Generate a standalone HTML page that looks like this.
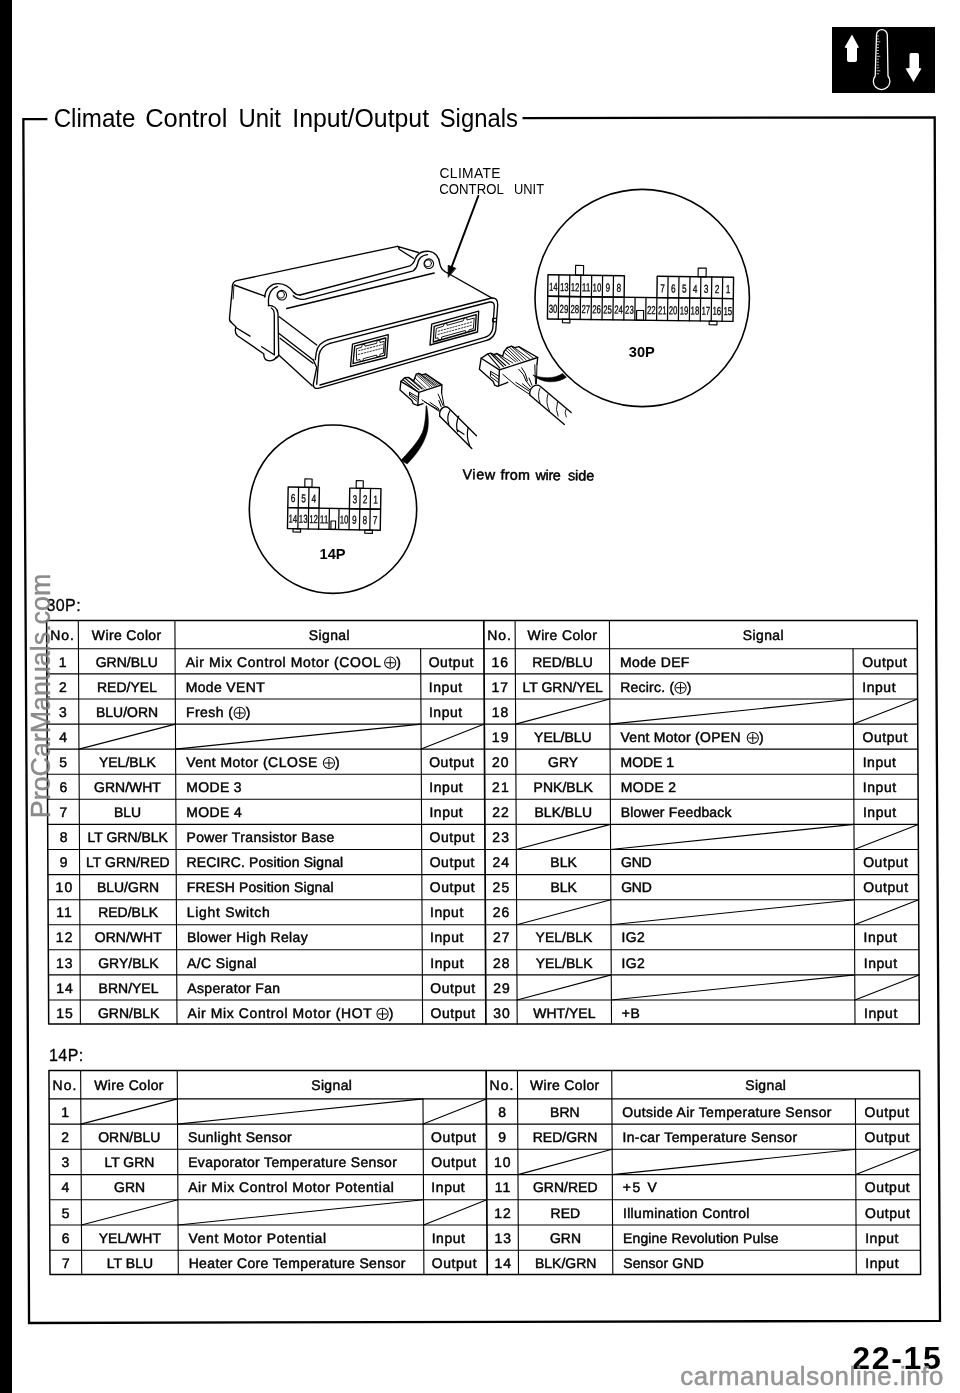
<!DOCTYPE html>
<html><head><meta charset="utf-8"><title>22-15</title>
<style>
html,body{margin:0;padding:0;background:#fff;}
body{width:960px;height:1393px;position:relative;overflow:hidden;font-family:"Liberation Sans",sans-serif;}
svg{position:absolute;left:0;top:0;display:block;filter:grayscale(1);}
text{font-family:"Liberation Sans",sans-serif;fill:#000;}
.t{font-size:14px;stroke:#000;stroke-width:0.45px;}
.m{letter-spacing:0.35px;}
.d{letter-spacing:1px;}
.m2{letter-spacing:0.55px;}
.b{font-weight:bold;}
.n{font-size:11px;}
</style></head><body>
<svg width="960" height="1393" viewBox="0 0 960 1393" stroke-linecap="round" stroke-linejoin="round">
<rect x="0" y="0" width="12" height="1393" fill="#000"/>
<path d="M47.40,119.10 L23.35,119.15 L24.50,420.00 L27.30,920.00 L28.10,1100.00 L29.05,1323.00 L940.00,1320.80 L936.25,640.00 L934.70,117.30 L522.50,118.14" fill="none" stroke="#000" stroke-width="2.3" stroke-linecap="butt" stroke-linejoin="miter"/>
<rect x="832" y="27" width="103" height="66" fill="#000"/>
<path d="M852,34.5 L859,47.5 L857,48 L857,60 Q857,62 855,62 L849,62 Q847,62 847,60 L847,48 L844.5,47.5 Z" fill="#fff"/>
<path d="M911,53 L917,53 Q919,53 919,55 L919,68 L921.5,68.5 L913.5,82 L905.5,68.5 L909.5,68 L909.5,55 Q909.5,53 911,53 Z" fill="#fff"/>
<path d="M876.5,35 A5.4,5.4 0 0 1 887.3,35 L888,76 A8.3,8.3 0 1 1 875.2,76 Z" fill="#000" stroke="#fff" stroke-width="1.3"/>
<line x1="877" y1="36.0" x2="878.6" y2="36.0" stroke="#fff" stroke-width="0.7"/>
<line x1="877" y1="38.9" x2="878.6" y2="38.9" stroke="#fff" stroke-width="0.7"/>
<line x1="877" y1="41.8" x2="879.9" y2="41.8" stroke="#fff" stroke-width="0.7"/>
<line x1="877" y1="44.7" x2="878.6" y2="44.7" stroke="#fff" stroke-width="0.7"/>
<line x1="877" y1="47.6" x2="878.6" y2="47.6" stroke="#fff" stroke-width="0.7"/>
<line x1="877" y1="50.5" x2="878.6" y2="50.5" stroke="#fff" stroke-width="0.7"/>
<line x1="877" y1="53.4" x2="878.6" y2="53.4" stroke="#fff" stroke-width="0.7"/>
<line x1="877" y1="56.3" x2="879.9" y2="56.3" stroke="#fff" stroke-width="0.7"/>
<line x1="877" y1="59.2" x2="878.6" y2="59.2" stroke="#fff" stroke-width="0.7"/>
<line x1="877" y1="62.1" x2="878.6" y2="62.1" stroke="#fff" stroke-width="0.7"/>
<line x1="877" y1="65.0" x2="878.6" y2="65.0" stroke="#fff" stroke-width="0.7"/>
<line x1="877" y1="67.9" x2="878.6" y2="67.9" stroke="#fff" stroke-width="0.7"/>
<line x1="877" y1="70.8" x2="879.9" y2="70.8" stroke="#fff" stroke-width="0.7"/>
<line x1="877" y1="73.7" x2="878.6" y2="73.7" stroke="#fff" stroke-width="0.7"/>
<text x="53.7" y="127.2" font-size="26.3" textLength="81.8" lengthAdjust="spacingAndGlyphs">Climate</text>
<text x="145.2" y="127.2" font-size="26.3" textLength="82.3" lengthAdjust="spacingAndGlyphs">Control</text>
<text x="238.4" y="127.2" font-size="26.3" textLength="42.5" lengthAdjust="spacingAndGlyphs">Unit</text>
<text x="292.3" y="127.2" font-size="26.3" textLength="136.8" lengthAdjust="spacingAndGlyphs">Input/Output</text>
<text x="439.7" y="127.2" font-size="26.3" textLength="78.2" lengthAdjust="spacingAndGlyphs">Signals</text>
<text x="439.5" y="177.8" class="" textLength="61.0" lengthAdjust="spacing" font-size="13.8">CLIMATE</text>
<text x="439.3" y="193.7" font-size="13.8" textLength="64.5" lengthAdjust="spacingAndGlyphs">CONTROL</text>
<text x="514" y="193.7" font-size="13.8" textLength="30" lengthAdjust="spacingAndGlyphs">UNIT</text>
<g transform="rotate(0.6 463 479)">
<text x="462.4" y="479.2" class="" textLength="32.8" lengthAdjust="spacing" font-size="14.3" stroke="#000" stroke-width="0.5">View</text>
<text x="500.4" y="479.2" class="" textLength="29.5" lengthAdjust="spacing" font-size="14.3" stroke="#000" stroke-width="0.5">from</text>
<text x="535.5" y="479.2" class="" textLength="25.3" lengthAdjust="spacing" font-size="14.3" stroke="#000" stroke-width="0.5">wire</text>
<text x="567.9" y="479.2" class="" textLength="26.3" lengthAdjust="spacing" font-size="14.3" stroke="#000" stroke-width="0.5">side</text>
</g>
<text x="628.8" y="357.3" class="b" font-size="14.6">30P</text>
<text x="319.6" y="558.5" class="b" font-size="14.6">14P</text>
<text x="46.4" y="611.0" class="" textLength="34.2" lengthAdjust="spacing" font-size="16" stroke="#000" stroke-width="0.3">30P:</text>
<text x="49.0" y="1061.1" class="" textLength="34.2" lengthAdjust="spacing" font-size="16" stroke="#000" stroke-width="0.3">14P:</text>
<g transform="matrix(1 0 0.0052 1 -3.328 0)">
<rect x="46.7" y="620.6" width="870.6" height="403.4" fill="none" stroke="#000" stroke-width="1.5"/>
<line x1="78.4" y1="620.6" x2="78.4" y2="1024.0" stroke="#000" stroke-width="1.1"/>
<line x1="175.0" y1="620.6" x2="175.0" y2="1024.0" stroke="#000" stroke-width="1.1"/>
<line x1="515.2" y1="620.6" x2="515.2" y2="1024.0" stroke="#000" stroke-width="1.1"/>
<line x1="609.5" y1="620.6" x2="609.5" y2="1024.0" stroke="#000" stroke-width="1.1"/>
<line x1="483.9" y1="620.6" x2="483.9" y2="1024.0" stroke="#000" stroke-width="1.7"/>
<line x1="420.6" y1="648.8" x2="420.6" y2="1024.0" stroke="#000" stroke-width="1.1"/>
<line x1="853.0" y1="648.8" x2="853.0" y2="1024.0" stroke="#000" stroke-width="1.1"/>
<line x1="46.7" y1="648.8" x2="917.3" y2="648.8" stroke="#000" stroke-width="1.1"/>
<line x1="46.7" y1="673.9" x2="917.3" y2="673.9" stroke="#000" stroke-width="1.1"/>
<line x1="46.7" y1="699.0" x2="917.3" y2="699.0" stroke="#000" stroke-width="1.1"/>
<line x1="46.7" y1="724.1" x2="917.3" y2="724.1" stroke="#000" stroke-width="1.1"/>
<line x1="46.7" y1="749.1" x2="917.3" y2="749.1" stroke="#000" stroke-width="1.1"/>
<line x1="46.7" y1="774.2" x2="917.3" y2="774.2" stroke="#000" stroke-width="1.1"/>
<line x1="46.7" y1="799.3" x2="917.3" y2="799.3" stroke="#000" stroke-width="1.1"/>
<line x1="46.7" y1="824.4" x2="917.3" y2="824.4" stroke="#000" stroke-width="1.1"/>
<line x1="46.7" y1="849.5" x2="917.3" y2="849.5" stroke="#000" stroke-width="1.1"/>
<line x1="46.7" y1="874.6" x2="917.3" y2="874.6" stroke="#000" stroke-width="1.1"/>
<line x1="46.7" y1="899.7" x2="917.3" y2="899.7" stroke="#000" stroke-width="1.1"/>
<line x1="46.7" y1="924.7" x2="917.3" y2="924.7" stroke="#000" stroke-width="1.1"/>
<line x1="46.7" y1="949.8" x2="917.3" y2="949.8" stroke="#000" stroke-width="1.1"/>
<line x1="46.7" y1="974.9" x2="917.3" y2="974.9" stroke="#000" stroke-width="1.1"/>
<line x1="46.7" y1="1000.0" x2="917.3" y2="1000.0" stroke="#000" stroke-width="1.1"/>
<text x="62.6" y="640.1" class="t d" text-anchor="middle" >No.</text>
<text x="126.7" y="640.1" class="t m" text-anchor="middle" >Wire Color</text>
<text x="329.4" y="640.1" class="t m" text-anchor="middle" >Signal</text>
<text x="499.6" y="640.1" class="t d" text-anchor="middle" >No.</text>
<text x="562.4" y="640.1" class="t m" text-anchor="middle" >Wire Color</text>
<text x="763.4" y="640.1" class="t m" text-anchor="middle" >Signal</text>
<text x="63.1" y="666.6" class="t d" text-anchor="middle" >1</text>
<text x="126.7" y="666.6" class="t" text-anchor="middle" >GRN/BLU</text>
<text x="185.5" y="666.6" class="t" textLength="195.1" lengthAdjust="spacing" >Air Mix Control Motor (COOL</text>
<circle cx="390.1" cy="662.7" r="5.6" fill="none" stroke="#000" stroke-width="1"/>
<path d="M385.9,662.7 L394.2,662.7 M390.1,658.6 L390.1,666.8" stroke="#000" stroke-width="1" fill="none"/>
<text x="396.2" y="666.6" class="t" >)</text>
<text x="428.5" y="666.6" class="t m2" >Output</text>
<text x="63.1" y="691.7" class="t d" text-anchor="middle" >2</text>
<text x="126.7" y="691.7" class="t" text-anchor="middle" >RED/YEL</text>
<text x="185.4" y="691.7" class="t m" >Mode VENT</text>
<text x="428.5" y="691.7" class="t m2" >Input</text>
<text x="63.1" y="716.8" class="t d" text-anchor="middle" >3</text>
<text x="126.7" y="716.8" class="t" text-anchor="middle" >BLU/ORN</text>
<text x="185.5" y="716.8" class="t" textLength="47.0" lengthAdjust="spacing" >Fresh (</text>
<circle cx="239.3" cy="712.9" r="5.6" fill="none" stroke="#000" stroke-width="1"/>
<path d="M235.2,712.9 L243.4,712.9 M239.3,708.8 L239.3,717.0" stroke="#000" stroke-width="1" fill="none"/>
<text x="245.4" y="716.8" class="t" >)</text>
<text x="428.5" y="716.8" class="t m2" >Input</text>
<text x="63.1" y="741.9" class="t d" text-anchor="middle" >4</text>
<line x1="78.4" y1="749.1" x2="175.0" y2="724.1" stroke="#000" stroke-width="1.1"/>
<line x1="175.0" y1="749.1" x2="420.6" y2="724.1" stroke="#000" stroke-width="1.1"/>
<line x1="420.6" y1="749.1" x2="483.9" y2="724.1" stroke="#000" stroke-width="1.1"/>
<text x="63.1" y="766.9" class="t d" text-anchor="middle" >5</text>
<text x="126.7" y="766.9" class="t" text-anchor="middle" >YEL/BLK</text>
<text x="185.5" y="766.9" class="t" textLength="131.3" lengthAdjust="spacing" >Vent Motor (CLOSE</text>
<circle cx="328.3" cy="763.0" r="5.6" fill="none" stroke="#000" stroke-width="1"/>
<path d="M324.2,763.0 L332.4,763.0 M328.3,758.9 L328.3,767.1" stroke="#000" stroke-width="1" fill="none"/>
<text x="334.4" y="766.9" class="t" >)</text>
<text x="428.5" y="766.9" class="t m2" >Output</text>
<text x="63.1" y="792.0" class="t d" text-anchor="middle" >6</text>
<text x="126.7" y="792.0" class="t" text-anchor="middle" >GRN/WHT</text>
<text x="185.4" y="792.0" class="t m" >MODE 3</text>
<text x="428.5" y="792.0" class="t m2" >Input</text>
<text x="63.1" y="817.1" class="t d" text-anchor="middle" >7</text>
<text x="126.7" y="817.1" class="t" text-anchor="middle" >BLU</text>
<text x="185.4" y="817.1" class="t m" >MODE 4</text>
<text x="428.5" y="817.1" class="t m2" >Input</text>
<text x="63.1" y="842.2" class="t d" text-anchor="middle" >8</text>
<text x="126.7" y="842.2" class="t" text-anchor="middle" >LT GRN/BLK</text>
<text x="185.4" y="842.2" class="t m" >Power Transistor Base</text>
<text x="428.5" y="842.2" class="t m2" >Output</text>
<text x="63.1" y="867.3" class="t d" text-anchor="middle" >9</text>
<text x="126.7" y="867.3" class="t" text-anchor="middle" >LT GRN/RED</text>
<text x="185.4" y="867.3" class="t" textLength="156.6" lengthAdjust="spacing" >RECIRC. Position Signal</text>
<text x="428.5" y="867.3" class="t m2" >Output</text>
<text x="63.1" y="892.4" class="t d" text-anchor="middle" >10</text>
<text x="126.7" y="892.4" class="t" text-anchor="middle" >BLU/GRN</text>
<text x="185.4" y="892.4" class="t" textLength="146.9" lengthAdjust="spacing" >FRESH Position Signal</text>
<text x="428.5" y="892.4" class="t m2" >Output</text>
<text x="63.1" y="917.5" class="t d" text-anchor="middle" >11</text>
<text x="126.7" y="917.5" class="t" text-anchor="middle" >RED/BLK</text>
<text x="185.4" y="917.5" class="t" textLength="83.0" lengthAdjust="spacing" >Light Switch</text>
<text x="428.5" y="917.5" class="t m2" >Input</text>
<text x="63.1" y="942.5" class="t d" text-anchor="middle" >12</text>
<text x="126.7" y="942.5" class="t" text-anchor="middle" >ORN/WHT</text>
<text x="185.4" y="942.5" class="t m" >Blower High Relay</text>
<text x="428.5" y="942.5" class="t m2" >Input</text>
<text x="63.1" y="967.6" class="t d" text-anchor="middle" >13</text>
<text x="126.7" y="967.6" class="t" text-anchor="middle" >GRY/BLK</text>
<text x="185.4" y="967.6" class="t m" >A/C Signal</text>
<text x="428.5" y="967.6" class="t m2" >Input</text>
<text x="63.1" y="992.7" class="t d" text-anchor="middle" >14</text>
<text x="126.7" y="992.7" class="t" text-anchor="middle" >BRN/YEL</text>
<text x="185.4" y="992.7" class="t m" >Asperator Fan</text>
<text x="428.5" y="992.7" class="t m2" >Output</text>
<text x="63.1" y="1017.8" class="t d" text-anchor="middle" >15</text>
<text x="126.7" y="1017.8" class="t" text-anchor="middle" >GRN/BLK</text>
<text x="185.5" y="1017.8" class="t" textLength="184.3" lengthAdjust="spacing" >Air Mix Control Motor (HOT</text>
<circle cx="380.6" cy="1013.9" r="5.6" fill="none" stroke="#000" stroke-width="1"/>
<path d="M376.4,1013.9 L384.7,1013.9 M380.6,1009.8 L380.6,1018.0" stroke="#000" stroke-width="1" fill="none"/>
<text x="386.7" y="1017.8" class="t" >)</text>
<text x="428.5" y="1017.8" class="t m2" >Output</text>
<text x="500.1" y="666.6" class="t d" text-anchor="middle" >16</text>
<text x="562.4" y="666.6" class="t" text-anchor="middle" >RED/BLU</text>
<text x="619.9" y="666.6" class="t m" >Mode DEF</text>
<text x="862.0" y="666.6" class="t m2" >Output</text>
<text x="500.1" y="691.7" class="t d" text-anchor="middle" >17</text>
<text x="562.4" y="691.7" class="t" text-anchor="middle" >LT GRN/YEL</text>
<text x="620.0" y="691.7" class="t" textLength="53.8" lengthAdjust="spacing" >Recirc. (</text>
<circle cx="680.3" cy="687.8" r="5.6" fill="none" stroke="#000" stroke-width="1"/>
<path d="M676.2,687.8 L684.4,687.8 M680.3,683.7 L680.3,691.9" stroke="#000" stroke-width="1" fill="none"/>
<text x="686.4" y="691.7" class="t" >)</text>
<text x="862.0" y="691.7" class="t m2" >Input</text>
<text x="500.1" y="716.8" class="t d" text-anchor="middle" >18</text>
<line x1="515.2" y1="724.1" x2="609.5" y2="699.0" stroke="#000" stroke-width="1.1"/>
<line x1="609.5" y1="724.1" x2="853.0" y2="699.0" stroke="#000" stroke-width="1.1"/>
<line x1="853.0" y1="724.1" x2="917.3" y2="699.0" stroke="#000" stroke-width="1.1"/>
<text x="500.1" y="741.9" class="t d" text-anchor="middle" >19</text>
<text x="562.4" y="741.9" class="t" text-anchor="middle" >YEL/BLU</text>
<text x="620.0" y="741.9" class="t" textLength="120.0" lengthAdjust="spacing" >Vent Motor (OPEN</text>
<circle cx="752.3" cy="738.0" r="5.6" fill="none" stroke="#000" stroke-width="1"/>
<path d="M748.2,738.0 L756.4,738.0 M752.3,733.9 L752.3,742.1" stroke="#000" stroke-width="1" fill="none"/>
<text x="758.4" y="741.9" class="t" >)</text>
<text x="862.0" y="741.9" class="t m2" >Output</text>
<text x="500.1" y="766.9" class="t d" text-anchor="middle" >20</text>
<text x="562.4" y="766.9" class="t" text-anchor="middle" >GRY</text>
<text x="619.9" y="766.9" class="t" textLength="53.5" lengthAdjust="spacing" >MODE 1</text>
<text x="862.0" y="766.9" class="t m2" >Input</text>
<text x="500.1" y="792.0" class="t d" text-anchor="middle" >21</text>
<text x="562.4" y="792.0" class="t" text-anchor="middle" >PNK/BLK</text>
<text x="619.9" y="792.0" class="t m" >MODE 2</text>
<text x="862.0" y="792.0" class="t m2" >Input</text>
<text x="500.1" y="817.1" class="t d" text-anchor="middle" >22</text>
<text x="562.4" y="817.1" class="t" text-anchor="middle" >BLK/BLU</text>
<text x="619.9" y="817.1" class="t" textLength="110.7" lengthAdjust="spacing" >Blower Feedback</text>
<text x="862.0" y="817.1" class="t m2" >Input</text>
<text x="500.1" y="842.2" class="t d" text-anchor="middle" >23</text>
<line x1="515.2" y1="849.5" x2="609.5" y2="824.4" stroke="#000" stroke-width="1.1"/>
<line x1="609.5" y1="849.5" x2="853.0" y2="824.4" stroke="#000" stroke-width="1.1"/>
<line x1="853.0" y1="849.5" x2="917.3" y2="824.4" stroke="#000" stroke-width="1.1"/>
<text x="500.1" y="867.3" class="t d" text-anchor="middle" >24</text>
<text x="562.4" y="867.3" class="t" text-anchor="middle" >BLK</text>
<text x="619.9" y="867.3" class="t" textLength="30.6" lengthAdjust="spacing" >GND</text>
<text x="862.0" y="867.3" class="t m2" >Output</text>
<text x="500.1" y="892.4" class="t d" text-anchor="middle" >25</text>
<text x="562.4" y="892.4" class="t" text-anchor="middle" >BLK</text>
<text x="619.9" y="892.4" class="t" textLength="30.6" lengthAdjust="spacing" >GND</text>
<text x="862.0" y="892.4" class="t m2" >Output</text>
<text x="500.1" y="917.5" class="t d" text-anchor="middle" >26</text>
<line x1="515.2" y1="924.7" x2="609.5" y2="899.7" stroke="#000" stroke-width="1.1"/>
<line x1="609.5" y1="924.7" x2="853.0" y2="899.7" stroke="#000" stroke-width="1.1"/>
<line x1="853.0" y1="924.7" x2="917.3" y2="899.7" stroke="#000" stroke-width="1.1"/>
<text x="500.1" y="942.5" class="t d" text-anchor="middle" >27</text>
<text x="562.4" y="942.5" class="t" text-anchor="middle" >YEL/BLK</text>
<text x="619.9" y="942.5" class="t m" >IG2</text>
<text x="862.0" y="942.5" class="t m2" >Input</text>
<text x="500.1" y="967.6" class="t d" text-anchor="middle" >28</text>
<text x="562.4" y="967.6" class="t" text-anchor="middle" >YEL/BLK</text>
<text x="619.9" y="967.6" class="t m" >IG2</text>
<text x="862.0" y="967.6" class="t m2" >Input</text>
<text x="500.1" y="992.7" class="t d" text-anchor="middle" >29</text>
<line x1="515.2" y1="1000.0" x2="609.5" y2="974.9" stroke="#000" stroke-width="1.1"/>
<line x1="609.5" y1="1000.0" x2="853.0" y2="974.9" stroke="#000" stroke-width="1.1"/>
<line x1="853.0" y1="1000.0" x2="917.3" y2="974.9" stroke="#000" stroke-width="1.1"/>
<text x="500.1" y="1017.8" class="t d" text-anchor="middle" >30</text>
<text x="562.4" y="1017.8" class="t" text-anchor="middle" >WHT/YEL</text>
<text x="619.9" y="1017.8" class="t m" >+B</text>
<text x="862.0" y="1017.8" class="t m2" >Input</text>
</g>
<g transform="matrix(1 0 0.0052 1 -3.328 0)">
<rect x="46.7" y="1070.6" width="870.6" height="204.0" fill="none" stroke="#000" stroke-width="1.5"/>
<line x1="78.4" y1="1070.6" x2="78.4" y2="1274.6" stroke="#000" stroke-width="1.1"/>
<line x1="175.0" y1="1070.6" x2="175.0" y2="1274.6" stroke="#000" stroke-width="1.1"/>
<line x1="515.2" y1="1070.6" x2="515.2" y2="1274.6" stroke="#000" stroke-width="1.1"/>
<line x1="609.5" y1="1070.6" x2="609.5" y2="1274.6" stroke="#000" stroke-width="1.1"/>
<line x1="483.9" y1="1070.6" x2="483.9" y2="1274.6" stroke="#000" stroke-width="1.7"/>
<line x1="420.6" y1="1098.9" x2="420.6" y2="1274.6" stroke="#000" stroke-width="1.1"/>
<line x1="853.0" y1="1098.9" x2="853.0" y2="1274.6" stroke="#000" stroke-width="1.1"/>
<line x1="46.7" y1="1098.9" x2="917.3" y2="1098.9" stroke="#000" stroke-width="1.1"/>
<line x1="46.7" y1="1124.1" x2="917.3" y2="1124.1" stroke="#000" stroke-width="1.1"/>
<line x1="46.7" y1="1149.3" x2="917.3" y2="1149.3" stroke="#000" stroke-width="1.1"/>
<line x1="46.7" y1="1174.6" x2="917.3" y2="1174.6" stroke="#000" stroke-width="1.1"/>
<line x1="46.7" y1="1199.8" x2="917.3" y2="1199.8" stroke="#000" stroke-width="1.1"/>
<line x1="46.7" y1="1225.0" x2="917.3" y2="1225.0" stroke="#000" stroke-width="1.1"/>
<line x1="46.7" y1="1250.2" x2="917.3" y2="1250.2" stroke="#000" stroke-width="1.1"/>
<text x="62.6" y="1090.1" class="t d" text-anchor="middle" >No.</text>
<text x="126.7" y="1090.1" class="t m" text-anchor="middle" >Wire Color</text>
<text x="329.4" y="1090.1" class="t m" text-anchor="middle" >Signal</text>
<text x="499.6" y="1090.1" class="t d" text-anchor="middle" >No.</text>
<text x="562.4" y="1090.1" class="t m" text-anchor="middle" >Wire Color</text>
<text x="763.4" y="1090.1" class="t m" text-anchor="middle" >Signal</text>
<text x="63.1" y="1116.7" class="t d" text-anchor="middle" >1</text>
<line x1="78.4" y1="1124.1" x2="175.0" y2="1098.9" stroke="#000" stroke-width="1.1"/>
<line x1="175.0" y1="1124.1" x2="420.6" y2="1098.9" stroke="#000" stroke-width="1.1"/>
<line x1="420.6" y1="1124.1" x2="483.9" y2="1098.9" stroke="#000" stroke-width="1.1"/>
<text x="63.1" y="1141.9" class="t d" text-anchor="middle" >2</text>
<text x="126.7" y="1141.9" class="t" text-anchor="middle" >ORN/BLU</text>
<text x="185.4" y="1141.9" class="t m" >Sunlight Sensor</text>
<text x="428.5" y="1141.9" class="t m2" >Output</text>
<text x="63.1" y="1167.1" class="t d" text-anchor="middle" >3</text>
<text x="126.7" y="1167.1" class="t" text-anchor="middle" >LT GRN</text>
<text x="185.4" y="1167.1" class="t m" >Evaporator Temperature Sensor</text>
<text x="428.5" y="1167.1" class="t m2" >Output</text>
<text x="63.1" y="1192.4" class="t d" text-anchor="middle" >4</text>
<text x="126.7" y="1192.4" class="t" text-anchor="middle" >GRN</text>
<text x="185.4" y="1192.4" class="t" textLength="205.6" lengthAdjust="spacing" >Air Mix Control Motor Potential</text>
<text x="428.5" y="1192.4" class="t m2" >Input</text>
<text x="63.1" y="1217.6" class="t d" text-anchor="middle" >5</text>
<line x1="78.4" y1="1225.0" x2="175.0" y2="1199.8" stroke="#000" stroke-width="1.1"/>
<line x1="175.0" y1="1225.0" x2="420.6" y2="1199.8" stroke="#000" stroke-width="1.1"/>
<line x1="420.6" y1="1225.0" x2="483.9" y2="1199.8" stroke="#000" stroke-width="1.1"/>
<text x="63.1" y="1242.8" class="t d" text-anchor="middle" >6</text>
<text x="126.7" y="1242.8" class="t" text-anchor="middle" >YEL/WHT</text>
<text x="185.4" y="1242.8" class="t" textLength="137.6" lengthAdjust="spacing" >Vent Motor Potential</text>
<text x="428.5" y="1242.8" class="t m2" >Input</text>
<text x="63.1" y="1268.0" class="t d" text-anchor="middle" >7</text>
<text x="126.7" y="1268.0" class="t" text-anchor="middle" >LT BLU</text>
<text x="185.4" y="1268.0" class="t m" >Heater Core Temperature Sensor</text>
<text x="428.5" y="1268.0" class="t m2" >Output</text>
<text x="500.1" y="1116.7" class="t d" text-anchor="middle" >8</text>
<text x="562.4" y="1116.7" class="t" text-anchor="middle" >BRN</text>
<text x="619.9" y="1116.7" class="t m" >Outside Air Temperature Sensor</text>
<text x="862.0" y="1116.7" class="t m2" >Output</text>
<text x="500.1" y="1141.9" class="t d" text-anchor="middle" >9</text>
<text x="562.4" y="1141.9" class="t" text-anchor="middle" >RED/GRN</text>
<text x="619.9" y="1141.9" class="t m" >In-car Temperature Sensor</text>
<text x="862.0" y="1141.9" class="t m2" >Output</text>
<text x="500.1" y="1167.1" class="t d" text-anchor="middle" >10</text>
<line x1="515.2" y1="1174.6" x2="609.5" y2="1149.3" stroke="#000" stroke-width="1.1"/>
<line x1="609.5" y1="1174.6" x2="853.0" y2="1149.3" stroke="#000" stroke-width="1.1"/>
<line x1="853.0" y1="1174.6" x2="917.3" y2="1149.3" stroke="#000" stroke-width="1.1"/>
<text x="500.1" y="1192.4" class="t d" text-anchor="middle" >11</text>
<text x="562.4" y="1192.4" class="t" text-anchor="middle" >GRN/RED</text>
<text x="619.9" y="1192.4" class="t" textLength="34.1" lengthAdjust="spacing" >+5 V</text>
<text x="862.0" y="1192.4" class="t m2" >Output</text>
<text x="500.1" y="1217.6" class="t d" text-anchor="middle" >12</text>
<text x="562.4" y="1217.6" class="t" text-anchor="middle" >RED</text>
<text x="619.9" y="1217.6" class="t m" >Illumination Control</text>
<text x="862.0" y="1217.6" class="t m2" >Output</text>
<text x="500.1" y="1242.8" class="t d" text-anchor="middle" >13</text>
<text x="562.4" y="1242.8" class="t" text-anchor="middle" >GRN</text>
<text x="619.9" y="1242.8" class="t" textLength="155.6" lengthAdjust="spacing" >Engine Revolution Pulse</text>
<text x="862.0" y="1242.8" class="t m2" >Input</text>
<text x="500.1" y="1268.0" class="t d" text-anchor="middle" >14</text>
<text x="562.4" y="1268.0" class="t" text-anchor="middle" >BLK/GRN</text>
<text x="619.9" y="1268.0" class="t" textLength="80.6" lengthAdjust="spacing" >Sensor GND</text>
<text x="862.0" y="1268.0" class="t m2" >Input</text>
</g>
<text x="852.3" y="1368.5" class="b" textLength="88.5" lengthAdjust="spacing" font-size="32">22-15</text>
<text transform="translate(50.3,818.2) rotate(-90)" font-size="28" fill-opacity="0.88" stroke="#7c7c7c" stroke-width="0.4" stroke-opacity="0.88" textLength="244.5" lengthAdjust="spacingAndGlyphs" style="fill:#7c7c7c">ProCarManuals.com</text>
<text x="680.3" y="1384.7" font-size="25.8" textLength="263" lengthAdjust="spacing" style="fill:#8c8c8c" fill-opacity="0.9" stroke="#8c8c8c" stroke-width="0.5" stroke-opacity="0.9">carmanualsonline.info</text>
<ellipse cx="642.2" cy="298" rx="107.2" ry="108.6" fill="none" stroke="#000" stroke-width="1.6"/>
<ellipse cx="333" cy="509.2" rx="83.7" ry="84.2" fill="none" stroke="#000" stroke-width="1.6"/>
<g transform="rotate(0.75 640 298)">
<rect x="547.7" y="276.0" width="76.4" height="21.4" fill="none" stroke="#000" stroke-width="1.4"/>
<line x1="558.6" y1="276.0" x2="558.6" y2="297.4" stroke="#000" stroke-width="1.25"/>
<line x1="569.5" y1="276.0" x2="569.5" y2="297.4" stroke="#000" stroke-width="1.25"/>
<line x1="580.5" y1="276.0" x2="580.5" y2="297.4" stroke="#000" stroke-width="1.25"/>
<line x1="591.4" y1="276.0" x2="591.4" y2="297.4" stroke="#000" stroke-width="1.25"/>
<line x1="602.3" y1="276.0" x2="602.3" y2="297.4" stroke="#000" stroke-width="1.25"/>
<line x1="613.2" y1="276.0" x2="613.2" y2="297.4" stroke="#000" stroke-width="1.25"/>
<text x="548.9" y="292.0" font-size="11.5" stroke="#000" stroke-width="0.3" textLength="8.6" lengthAdjust="spacingAndGlyphs">14</text>
<text x="559.8" y="292.0" font-size="11.5" stroke="#000" stroke-width="0.3" textLength="8.6" lengthAdjust="spacingAndGlyphs">13</text>
<text x="570.7" y="292.0" font-size="11.5" stroke="#000" stroke-width="0.3" textLength="8.6" lengthAdjust="spacingAndGlyphs">12</text>
<text x="581.6" y="292.0" font-size="11.5" stroke="#000" stroke-width="0.3" textLength="8.6" lengthAdjust="spacingAndGlyphs">11</text>
<text x="592.5" y="292.0" font-size="11.5" stroke="#000" stroke-width="0.3" textLength="8.6" lengthAdjust="spacingAndGlyphs">10</text>
<text x="605.5" y="292.0" font-size="11.5" stroke="#000" stroke-width="0.3" textLength="4.6" lengthAdjust="spacingAndGlyphs">9</text>
<text x="616.4" y="292.0" font-size="11.5" stroke="#000" stroke-width="0.3" textLength="4.6" lengthAdjust="spacingAndGlyphs">8</text>
<rect x="656.9" y="276.0" width="76.4" height="21.4" fill="none" stroke="#000" stroke-width="1.4"/>
<line x1="667.8" y1="276.0" x2="667.8" y2="297.4" stroke="#000" stroke-width="1.25"/>
<line x1="678.7" y1="276.0" x2="678.7" y2="297.4" stroke="#000" stroke-width="1.25"/>
<line x1="689.7" y1="276.0" x2="689.7" y2="297.4" stroke="#000" stroke-width="1.25"/>
<line x1="700.6" y1="276.0" x2="700.6" y2="297.4" stroke="#000" stroke-width="1.25"/>
<line x1="711.5" y1="276.0" x2="711.5" y2="297.4" stroke="#000" stroke-width="1.25"/>
<line x1="722.4" y1="276.0" x2="722.4" y2="297.4" stroke="#000" stroke-width="1.25"/>
<text x="660.1" y="292.0" font-size="11.5" stroke="#000" stroke-width="0.3" textLength="4.6" lengthAdjust="spacingAndGlyphs">7</text>
<text x="671.0" y="292.0" font-size="11.5" stroke="#000" stroke-width="0.3" textLength="4.6" lengthAdjust="spacingAndGlyphs">6</text>
<text x="681.9" y="292.0" font-size="11.5" stroke="#000" stroke-width="0.3" textLength="4.6" lengthAdjust="spacingAndGlyphs">5</text>
<text x="692.8" y="292.0" font-size="11.5" stroke="#000" stroke-width="0.3" textLength="4.6" lengthAdjust="spacingAndGlyphs">4</text>
<text x="703.7" y="292.0" font-size="11.5" stroke="#000" stroke-width="0.3" textLength="4.6" lengthAdjust="spacingAndGlyphs">3</text>
<text x="714.7" y="292.0" font-size="11.5" stroke="#000" stroke-width="0.3" textLength="4.6" lengthAdjust="spacingAndGlyphs">2</text>
<text x="725.6" y="292.0" font-size="11.5" stroke="#000" stroke-width="0.3" textLength="4.6" lengthAdjust="spacingAndGlyphs">1</text>
<rect x="547.7" y="297.4" width="185.6" height="22.8" fill="none" stroke="#000" stroke-width="1.4"/>
<line x1="558.6" y1="297.4" x2="558.6" y2="320.2" stroke="#000" stroke-width="1.25"/>
<line x1="569.5" y1="297.4" x2="569.5" y2="320.2" stroke="#000" stroke-width="1.25"/>
<line x1="580.5" y1="297.4" x2="580.5" y2="320.2" stroke="#000" stroke-width="1.25"/>
<line x1="591.4" y1="297.4" x2="591.4" y2="320.2" stroke="#000" stroke-width="1.25"/>
<line x1="602.3" y1="297.4" x2="602.3" y2="320.2" stroke="#000" stroke-width="1.25"/>
<line x1="613.2" y1="297.4" x2="613.2" y2="320.2" stroke="#000" stroke-width="1.25"/>
<line x1="624.1" y1="297.4" x2="624.1" y2="320.2" stroke="#000" stroke-width="1.25"/>
<line x1="635.1" y1="297.4" x2="635.1" y2="320.2" stroke="#000" stroke-width="1.25"/>
<line x1="646.0" y1="297.4" x2="646.0" y2="320.2" stroke="#000" stroke-width="1.25"/>
<line x1="656.9" y1="297.4" x2="656.9" y2="320.2" stroke="#000" stroke-width="1.25"/>
<line x1="667.8" y1="297.4" x2="667.8" y2="320.2" stroke="#000" stroke-width="1.25"/>
<line x1="678.7" y1="297.4" x2="678.7" y2="320.2" stroke="#000" stroke-width="1.25"/>
<line x1="689.7" y1="297.4" x2="689.7" y2="320.2" stroke="#000" stroke-width="1.25"/>
<line x1="700.6" y1="297.4" x2="700.6" y2="320.2" stroke="#000" stroke-width="1.25"/>
<line x1="711.5" y1="297.4" x2="711.5" y2="320.2" stroke="#000" stroke-width="1.25"/>
<line x1="722.4" y1="297.4" x2="722.4" y2="320.2" stroke="#000" stroke-width="1.25"/>
<text x="548.9" y="313.9" font-size="11.5" stroke="#000" stroke-width="0.3" textLength="8.6" lengthAdjust="spacingAndGlyphs">30</text>
<text x="559.8" y="313.9" font-size="11.5" stroke="#000" stroke-width="0.3" textLength="8.6" lengthAdjust="spacingAndGlyphs">29</text>
<text x="570.7" y="313.9" font-size="11.5" stroke="#000" stroke-width="0.3" textLength="8.6" lengthAdjust="spacingAndGlyphs">28</text>
<text x="581.6" y="313.9" font-size="11.5" stroke="#000" stroke-width="0.3" textLength="8.6" lengthAdjust="spacingAndGlyphs">27</text>
<text x="592.5" y="313.9" font-size="11.5" stroke="#000" stroke-width="0.3" textLength="8.6" lengthAdjust="spacingAndGlyphs">26</text>
<text x="603.5" y="313.9" font-size="11.5" stroke="#000" stroke-width="0.3" textLength="8.6" lengthAdjust="spacingAndGlyphs">25</text>
<text x="614.4" y="313.9" font-size="11.5" stroke="#000" stroke-width="0.3" textLength="8.6" lengthAdjust="spacingAndGlyphs">24</text>
<text x="625.3" y="313.9" font-size="11.5" stroke="#000" stroke-width="0.3" textLength="8.6" lengthAdjust="spacingAndGlyphs">23</text>
<text x="647.1" y="313.9" font-size="11.5" stroke="#000" stroke-width="0.3" textLength="8.6" lengthAdjust="spacingAndGlyphs">22</text>
<text x="658.1" y="313.9" font-size="11.5" stroke="#000" stroke-width="0.3" textLength="8.6" lengthAdjust="spacingAndGlyphs">21</text>
<text x="669.0" y="313.9" font-size="11.5" stroke="#000" stroke-width="0.3" textLength="8.6" lengthAdjust="spacingAndGlyphs">20</text>
<text x="679.9" y="313.9" font-size="11.5" stroke="#000" stroke-width="0.3" textLength="8.6" lengthAdjust="spacingAndGlyphs">19</text>
<text x="690.8" y="313.9" font-size="11.5" stroke="#000" stroke-width="0.3" textLength="8.6" lengthAdjust="spacingAndGlyphs">18</text>
<text x="701.7" y="313.9" font-size="11.5" stroke="#000" stroke-width="0.3" textLength="8.6" lengthAdjust="spacingAndGlyphs">17</text>
<text x="712.7" y="313.9" font-size="11.5" stroke="#000" stroke-width="0.3" textLength="8.6" lengthAdjust="spacingAndGlyphs">16</text>
<text x="723.6" y="313.9" font-size="11.5" stroke="#000" stroke-width="0.3" textLength="8.6" lengthAdjust="spacingAndGlyphs">15</text>
<rect x="575.2" y="266.2" width="8.0" height="9.8" fill="none" stroke="#000" stroke-width="1.15"/>
<rect x="697.8" y="267.3" width="8.0" height="8.7" fill="none" stroke="#000" stroke-width="1.15"/>
<rect x="562.8" y="320.2" width="7.4" height="3.6" fill="none" stroke="#000" stroke-width="1.15"/>
<rect x="709.5" y="320.2" width="7.8" height="3.6" fill="none" stroke="#000" stroke-width="1.15"/>
<rect x="636.8" y="310.5" width="7.0" height="9.7" fill="none" stroke="#000" stroke-width="1.15"/>
</g>
<g transform="rotate(1.0 333 509)">
<rect x="287.8" y="487.8" width="31.2" height="20.6" fill="none" stroke="#000" stroke-width="1.4"/>
<line x1="298.2" y1="487.8" x2="298.2" y2="508.4" stroke="#000" stroke-width="1.25"/>
<line x1="308.6" y1="487.8" x2="308.6" y2="508.4" stroke="#000" stroke-width="1.25"/>
<text x="290.7" y="502.8" font-size="11.5" stroke="#000" stroke-width="0.3" textLength="4.6" lengthAdjust="spacingAndGlyphs">6</text>
<text x="301.1" y="502.8" font-size="11.5" stroke="#000" stroke-width="0.3" textLength="4.6" lengthAdjust="spacingAndGlyphs">5</text>
<text x="311.5" y="502.8" font-size="11.5" stroke="#000" stroke-width="0.3" textLength="4.6" lengthAdjust="spacingAndGlyphs">4</text>
<rect x="349.4" y="487.8" width="31.2" height="20.6" fill="none" stroke="#000" stroke-width="1.4"/>
<line x1="359.8" y1="487.8" x2="359.8" y2="508.4" stroke="#000" stroke-width="1.25"/>
<line x1="370.2" y1="487.8" x2="370.2" y2="508.4" stroke="#000" stroke-width="1.25"/>
<text x="352.3" y="502.8" font-size="11.5" stroke="#000" stroke-width="0.3" textLength="4.6" lengthAdjust="spacingAndGlyphs">3</text>
<text x="362.7" y="502.8" font-size="11.5" stroke="#000" stroke-width="0.3" textLength="4.6" lengthAdjust="spacingAndGlyphs">2</text>
<text x="373.1" y="502.8" font-size="11.5" stroke="#000" stroke-width="0.3" textLength="4.6" lengthAdjust="spacingAndGlyphs">1</text>
<rect x="287.8" y="508.4" width="92.8" height="21.0" fill="none" stroke="#000" stroke-width="1.4"/>
<line x1="298.2" y1="508.4" x2="298.2" y2="529.4" stroke="#000" stroke-width="1.25"/>
<line x1="308.6" y1="508.4" x2="308.6" y2="529.4" stroke="#000" stroke-width="1.25"/>
<line x1="319.0" y1="508.4" x2="319.0" y2="529.4" stroke="#000" stroke-width="1.25"/>
<line x1="329.4" y1="508.4" x2="329.4" y2="529.4" stroke="#000" stroke-width="1.25"/>
<line x1="339.0" y1="508.4" x2="339.0" y2="529.4" stroke="#000" stroke-width="1.25"/>
<line x1="349.4" y1="508.4" x2="349.4" y2="529.4" stroke="#000" stroke-width="1.25"/>
<line x1="359.8" y1="508.4" x2="359.8" y2="529.4" stroke="#000" stroke-width="1.25"/>
<line x1="370.2" y1="508.4" x2="370.2" y2="529.4" stroke="#000" stroke-width="1.25"/>
<text x="288.7" y="523.4" font-size="11.5" stroke="#000" stroke-width="0.3" textLength="8.6" lengthAdjust="spacingAndGlyphs">14</text>
<text x="299.1" y="523.4" font-size="11.5" stroke="#000" stroke-width="0.3" textLength="8.6" lengthAdjust="spacingAndGlyphs">13</text>
<text x="309.5" y="523.4" font-size="11.5" stroke="#000" stroke-width="0.3" textLength="8.6" lengthAdjust="spacingAndGlyphs">12</text>
<text x="319.9" y="523.4" font-size="11.5" stroke="#000" stroke-width="0.3" textLength="8.6" lengthAdjust="spacingAndGlyphs">11</text>
<text x="339.9" y="523.4" font-size="11.5" stroke="#000" stroke-width="0.3" textLength="8.6" lengthAdjust="spacingAndGlyphs">10</text>
<text x="352.3" y="523.4" font-size="11.5" stroke="#000" stroke-width="0.3" textLength="4.6" lengthAdjust="spacingAndGlyphs">9</text>
<text x="362.7" y="523.4" font-size="11.5" stroke="#000" stroke-width="0.3" textLength="4.6" lengthAdjust="spacingAndGlyphs">8</text>
<text x="373.1" y="523.4" font-size="11.5" stroke="#000" stroke-width="0.3" textLength="4.6" lengthAdjust="spacingAndGlyphs">7</text>
<rect x="304.4" y="479.4" width="7.2" height="8.4" fill="none" stroke="#000" stroke-width="1.15"/>
<rect x="355.8" y="480.2" width="7.0" height="7.6" fill="none" stroke="#000" stroke-width="1.15"/>
<rect x="293.4" y="529.4" width="7.6" height="3.3" fill="none" stroke="#000" stroke-width="1.15"/>
<rect x="365.2" y="529.4" width="7.6" height="3.3" fill="none" stroke="#000" stroke-width="1.15"/>
<rect x="331.2" y="521.0" width="4.6" height="8.4" fill="none" stroke="#000" stroke-width="1.15"/>
</g>
<line x1="478.3" y1="196" x2="450.5" y2="270" stroke="#000" stroke-width="2"/>
<path d="M448.2,277 L448.2,265.3 L455.6,268.3 Z" fill="#000" stroke="#000" stroke-width="0.8"/>
<path d="M 232.4,287.0 Q 232.2,282.0 236.5,280.6 L 397.5,246.3" fill="none" stroke="#000" stroke-width="1.35" />
<path d="M 232.5,285.8 L 229.5,318.3 Q 229.2,321.3 231.7,322.7 L 235.8,326.7" fill="none" stroke="#000" stroke-width="1.35" />
<path d="M 234.2,285.0 L 265.0,296.2" fill="none" stroke="#000" stroke-width="1.35" />
<path d="M 235.8,327.5 L 250.0,336.2" fill="none" stroke="#000" stroke-width="1.35" />
<path d="M 235.8,327.5 Q 234.2,332.5 237.5,335.8 L 263.7,353.7 Q 263.7,360.8 270.0,360.8 Q 275.0,360.3 276.3,357.0" fill="none" stroke="#000" stroke-width="1.35" />
<path d="M 261.7,346.7 L 274.2,354.7" fill="none" stroke="#000" stroke-width="1.35" />
<path d="M 264.7,297.0 C 265.3,288.3 271.7,283.3 278.7,283.7 C 286.7,284.0 290.8,288.7 293.3,292.0 Q 295.8,295.0 300.0,295.0" fill="none" stroke="#000" stroke-width="1.35" />
<path d="M 300.0,295.0 L 410.0,265.8 Q 414.2,263.3 415.0,259.2 C 417.5,253.3 423.3,250.8 429.2,251.3 C 435.0,251.7 439.2,257.5 439.7,263.3 Q 440.8,270.0 447.5,273.0" fill="none" stroke="#000" stroke-width="1.35" />
<path d="M 447.5,273.0 L 492.0,298.2" fill="none" stroke="#000" stroke-width="1.35" />
<path d="M 268.7,305.8 C 267.5,296.7 270.0,288.7 277.5,286.7" fill="none" stroke="#000" stroke-width="1.35" />
<path d="M 268.3,305.3 Q 276.7,305.3 278.0,313.3 L 278.7,354.7 Q 278.3,357.5 275.8,358.0" fill="none" stroke="#000" stroke-width="1.35" />
<path d="M 271.3,308.0 Q 274.3,309.7 274.3,315.0 L 274.3,354.7" fill="none" stroke="#000" stroke-width="1.35" />
<path d="M 293.3,295.8 Q 297.5,300.3 305.0,299.2 L 413.3,270.8 Q 416.7,268.3 417.7,263.3 C 418.7,258.3 422.5,255.3 427.5,254.7" fill="none" stroke="#000" stroke-width="1.35" />
<path d="M 286.7,308.5 L 434.2,273.0" fill="none" stroke="#000" stroke-width="1.35" />
<path d="M 397.5,246.3 L 418.3,252.5 M 399.2,249.2 L 413.3,258.3 M 398.3,246.7 L 399.2,249.2" fill="none" stroke="#000" stroke-width="1.35" />
<circle cx="281.8" cy="295.2" r="4.8" fill="none" stroke="#000" stroke-width="1.1"/>
<circle cx="281.0" cy="294.7" r="3.5" fill="none" stroke="#000" stroke-width="0.9"/>
<path d="M233.9,286 L233.1,299" fill="none" stroke="#000" stroke-width="0.9"/>
<circle cx="428.8" cy="263.7" r="4.8" fill="none" stroke="#000" stroke-width="1.1"/>
<circle cx="428.0" cy="263.3" r="3.5" fill="none" stroke="#000" stroke-width="0.9"/>
<path d="M 279.2,316.7 L 316.7,345.0" fill="none" stroke="#000" stroke-width="1.35" />
<path d="M 278.7,333.3 L 313.3,360.0" fill="none" stroke="#000" stroke-width="1.35" />
<path d="M 280.0,338.3 L 313.0,363.3" fill="none" stroke="#000" stroke-width="1.35" />
<path d="M 278.7,355.0 L 312.2,385.8" fill="none" stroke="#000" stroke-width="1.35" />
<path d="M 328.3,339.7 Q 317.5,343.3 316.3,352.5 L 315.3,359.7" fill="none" stroke="#000" stroke-width="1.35" />
<path d="M 328.3,339.7 L 491.7,298.0 Q 498.0,297.5 497.7,305.0 L 495.8,330.0 Q 494.2,338.3 486.7,340.3 L 318.3,388.3 Q 313.3,389.2 313.3,384.2 L 316.7,367.5 L 313.3,360.0" fill="none" stroke="#000" stroke-width="1.35" />
<path d="M 330.0,343.3 L 489.7,302.0 Q 494.7,301.7 494.3,306.7 L 492.8,328.3 Q 491.5,335.3 484.7,337.3 L 320.0,385.0" fill="none" stroke="#000" stroke-width="1.35" />
<path d="M 330.0,343.3 Q 320.3,346.3 319.0,355.0 L 316.7,384.2" fill="none" stroke="#000" stroke-width="1.35" />
<path d="M 495.8,318.3 L 492.8,318.3 L 492.8,321.7 L 495.3,321.7" fill="none" stroke="#000" stroke-width="1.35" />
<path d="M 431.7,324.2 L 478.7,311.2 L 477.5,332.0 L 430.0,345.0 Z" fill="none" stroke="#000" stroke-width="1.35" />
<path d="M 434.2,326.3 L 476.2,314.7 L 475.3,330.0 L 433.3,342.0 Z" fill="none" stroke="#000" stroke-width="1.35" />
<path d="M 436.7,328.3 L 443.3,326.3 L 444.2,323.7 L 446.7,323.2 L 447.0,325.3 L 463.3,320.8 L 464.2,318.0 L 466.7,317.5 L 467.0,320.0 L 474.2,318.0 L 473.3,328.7 L 469.2,329.7 L 468.3,332.0 L 465.8,332.5 L 465.3,330.5 L 441.7,337.0 L 441.3,339.5 L 438.3,340.0 L 438.0,337.8 L 435.8,338.3 Z" fill="none" stroke="#000" stroke-width="0.9" />
<path d="M 438.3,331.2 L 473.0,321.7 M 438.0,334.5 L 472.7,325.0" fill="none" stroke="#000" stroke-width="0.8" stroke-dasharray="1.5 1.5"/>
<path d="M 352.5,344.2 L 388.3,334.7 L 386.7,357.5 L 350.5,366.7 Z" fill="none" stroke="#000" stroke-width="1.35" />
<path d="M 354.7,346.2 L 385.8,338.0 L 384.7,355.3 L 353.0,363.7 Z" fill="none" stroke="#000" stroke-width="1.35" />
<path d="M 356.7,348.7 L 361.7,347.2 L 362.2,344.7 L 364.7,344.2 L 365.0,346.2 L 376.7,343.3 L 377.2,340.5 L 379.7,340.0 L 380.0,342.5 L 384.2,341.3 L 383.3,353.3 L 380.0,354.2 L 379.5,356.5 L 377.0,357.0 L 376.7,355.0 L 363.3,358.7 L 363.0,361.2 L 360.3,361.7 L 360.0,359.5 L 357.0,360.3 Z" fill="none" stroke="#000" stroke-width="0.9" />
<path d="M 358.7,350.7 L 382.5,344.5 M 358.3,354.5 L 382.2,348.3" fill="none" stroke="#000" stroke-width="0.8" stroke-dasharray="1.5 1.5"/>
<path d="M 400.9,381.4 L 404.7,377.7 L 408.4,377.4 L 413.8,380.8 L 416.2,374.2 L 418.8,373.3 L 421.9,374.9 L 425.6,373.9 L 441.9,384.9 L 441.6,393.0" fill="none" stroke="#000" stroke-width="1.35" />
<path d="M 400.9,381.4 L 400.0,389.9 L 411.9,400.5 L 413.1,403.6 L 417.5,405.5 L 423.1,403.6" fill="none" stroke="#000" stroke-width="1.35" />
<path d="M 400.9,381.4 L 418.8,392.4 L 441.9,384.9" fill="none" stroke="#000" stroke-width="1.35" />
<path d="M 418.8,392.4 L 417.8,405.4" fill="none" stroke="#000" stroke-width="1.35" />
<path d="M 409.7,392.4 L 409.4,395.5 L 416.6,401.1 M 409.7,392.4 L 417.8,397.1 M 410.0,394.2 L 417.2,399.2" fill="none" stroke="#000" stroke-width="1.0" />
<path d="M 404.7,378.0 L 419.1,389.9 M 408.4,377.5 L 421.9,388.9 M 403.1,379.9 L 416.9,391.1" fill="none" stroke="#000" stroke-width="1.1" />
<path d="M 413.8,380.8 L 424.4,389.6 M 415.0,378.0 L 426.2,388.6 M 416.2,374.6 L 430.0,387.4 M 417.5,373.9 L 431.9,386.8 M 418.8,373.5 L 433.8,386.2 M 420.3,374.2 L 435.3,385.8 M 421.9,375.0 L 436.6,385.4 M 423.8,374.6 L 438.4,385.0 M 425.6,374.1 L 440.3,384.8" fill="none" stroke="#000" stroke-width="0.8" />
<path d="M 421.9,399.9 L 438.8,411.1 M 424.4,401.8 L 440.0,410.5 M 430.0,402.4 L 438.8,408.6 M 438.1,394.2 L 443.1,405.5 M 438.8,400.5 L 441.2,406.8 M 441.6,393.0 L 444.1,405.5" fill="none" stroke="#000" stroke-width="1.0" />
<path d="M 439.8,416.2 Q 438.8,410.8 442.6,407.9 Q 445.7,405.8 448.3,407.7 L 476.5,435.8" fill="none" stroke="#000" stroke-width="1.35" />
<path d="M 439.8,416.2 L 471.8,448.5" fill="none" stroke="#000" stroke-width="1.35" />
<path d="M 449.9,410.8 Q 446.2,417.1 448.9,424.4 M 458.8,416.0 Q 455.1,424.4 457.7,431.7 M 456.7,429.6 L 464.0,434.3 M 468.1,427.5 Q 466.0,436.9 469.7,445.7" fill="none" stroke="#000" stroke-width="1.2" />
<path d="M 426.0,406.1 C 425.9,414.0 425.1,423.3 423.3,429.6 C 420.8,437.9 413.4,447.3 400.9,460.3 L 407.2,464.0 C 419.7,451.5 425.6,440.0 427.8,429.6 C 428.9,423.3 428.3,414.0 426.7,406.1 Z" fill="#000" stroke="#000" stroke-width="0.5" />
<path d="M 481.2,358.2 L 487.8,353.9 L 490.7,353.1 L 494.0,354.6 L 496.9,353.5 L 502.7,356.4 L 503.8,352.0 L 507.1,347.7 L 511.5,346.2 L 514.7,347.7 L 518.8,346.6 L 537.7,357.5 L 537.0,364.1" fill="none" stroke="#000" stroke-width="1.35" />
<path d="M 481.2,358.2 L 479.4,369.2 L 493.2,381.6 L 494.7,385.2 L 497.6,386.3 L 507.8,382.3" fill="none" stroke="#000" stroke-width="1.35" />
<path d="M 481.2,358.2 L 499.4,369.9 L 537.7,357.5" fill="none" stroke="#000" stroke-width="1.35" />
<path d="M 499.4,369.9 L 498.7,385.4" fill="none" stroke="#000" stroke-width="1.35" />
<path d="M 490.7,371.4 L 490.3,376.5 L 498.3,382.4 M 490.7,371.4 L 499.4,376.5 M 491.4,373.9 L 498.9,379.7" fill="none" stroke="#000" stroke-width="1.0" />
<path d="M 487.8,354.2 L 499.8,368.1 M 490.7,353.5 L 503.4,366.6 M 494.0,354.9 L 505.6,365.5 M 496.9,353.9 L 509.3,364.4" fill="none" stroke="#000" stroke-width="1.1" />
<path d="M 502.7,356.8 L 512.9,363.0 M 503.8,352.4 L 515.8,361.9 M 505.6,349.8 L 518.0,361.5 M 507.1,348.0 L 520.2,361.1 M 509.3,347.1 L 523.1,360.4 M 511.5,346.6 L 526.0,359.7 M 514.7,348.0 L 529.7,359.1 M 518.8,346.9 L 533.3,358.2" fill="none" stroke="#000" stroke-width="0.9" />
<path d="M 502.7,374.3 Q 515.8,386.7 529.0,394.0 M 515.8,382.3 L 529.0,391.0 M 518.8,369.2 Q 524.6,374.3 526.0,380.8 M 521.7,367.7 Q 526.0,372.8 527.5,380.8 M 534.8,364.8 L 535.5,383.8 M 537.0,364.1 L 536.4,383.8 M 526.0,380.8 L 530.4,386.7 M 529.0,377.9 L 531.9,385.2 M 522.4,383.8 L 529.7,389.6" fill="none" stroke="#000" stroke-width="1.0" />
<path d="M 530.0,395.2 Q 528.8,390.0 533.1,386.5 Q 536.9,384.0 540.2,386.2 L 571.2,412.5" fill="none" stroke="#000" stroke-width="1.35" />
<path d="M 530.0,395.2 L 564.4,424.4" fill="none" stroke="#000" stroke-width="1.35" />
<path d="M 540.0,388.1 Q 536.9,395.0 540.0,403.1 M 548.1,393.8 Q 545.0,402.5 549.4,410.6 M 557.5,401.9 Q 555.0,410.0 558.1,416.2 M 566.2,408.8 Q 563.8,412.5 566.2,416.9" fill="none" stroke="#000" stroke-width="0.9" />
<path d="M 533.1,375.0 C 542.5,378.8 555.0,378.8 562.5,373.5 L 566.5,377.2 C 557.5,383.1 543.8,384.4 533.1,375.2 Z" fill="#000" stroke="#000" stroke-width="0.5" />
</svg>
</body></html>
